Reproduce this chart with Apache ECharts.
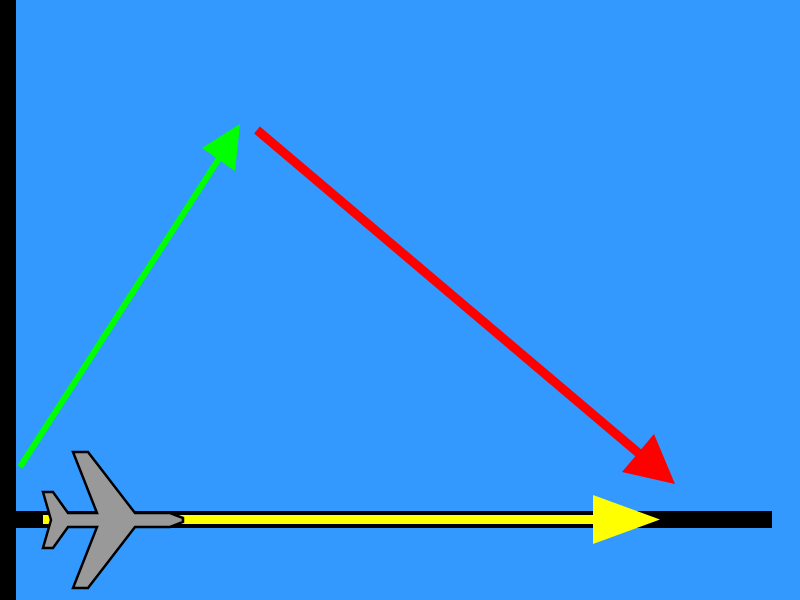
<!DOCTYPE html>
<html>
<head>
<meta charset="utf-8">
<script src="https://cdn.jsdelivr.net/npm/echarts@6/dist/echarts.min.js"></script>
<style>
	html, body {margin:0; padding:0; background:#3399ff;}
	#main {width:800px; height:600px;}
</style>
</head>
<body>
<div id="main"></div>
<script>
	// pixel-space points of the diagram (x right, y down)
	var axisV = [[8, 0], [8, 600]];
	var axisH = [[16, 519.5], [772, 519.5]];
	var yellowShaft = [[43, 519.5], [600, 519.5]];
	var yellowHead = [[593, 495], [660, 519.5], [593, 544]];
	var greenShaft = [[20, 467], [220, 157]];
	var greenHead = [[240, 124], [235, 171], [202, 148]];
	var redShaft = [[257, 130], [642, 456]];
	var redHead = [[675, 484], [622, 472], [654, 434]];
	var plane = [[183, 518], [170, 513], [135, 513], [88, 452], [73, 452], [97, 513], [68, 513], [53, 492], [43, 492],
		[51, 520], [43, 548], [53, 548], [68, 527], [97, 527], [73, 588], [88, 588], [135, 527], [170, 527], [183, 522]];

	var shapes = [
		{pts: axisV, type: 'line', color: '#000', width: 16},
		{pts: axisH, type: 'line', color: '#000', width: 17},
		{pts: yellowShaft, type: 'line', color: '#ffff00', width: 9},
		{pts: yellowHead, type: 'poly', color: '#ffff00'},
		{pts: greenShaft, type: 'line', color: '#00ff00', width: 6},
		{pts: greenHead, type: 'poly', color: '#00ff00'},
		{pts: redShaft, type: 'line', color: '#ff0000', width: 9},
		{pts: redHead, type: 'poly', color: '#ff0000'},
		{pts: plane, type: 'poly', color: '#999999', stroke: '#000', width: 2.5}
	];

	var myChart = echarts.init(document.getElementById('main'));
	var option = {
		backgroundColor: '#3399ff',
		animation: false,
		grid: {left: 0, right: 0, top: 0, bottom: 0},
		xAxis: {type: 'value', min: 0, max: 800, show: false},
		yAxis: {type: 'value', min: 0, max: 600, inverse: true, show: false},
		series: [{
			type: 'custom',
			coordinateSystem: 'cartesian2d',
			data: shapes.map(function (s, i) { return [i]; }),
			renderItem: function (params, api) {
				var s = shapes[params.dataIndex];
				var pts = s.pts.map(function (p) { return api.coord(p); });
				if (s.type === 'line') {
					return {type: 'polyline', shape: {points: pts},
						style: {stroke: s.color, lineWidth: s.width, fill: null}};
				}
				return {type: 'polygon', shape: {points: pts},
					style: {fill: s.color, stroke: s.stroke || null, lineWidth: s.width || 0}};
			}
		}]
	};
	myChart.setOption(option);
</script>
</body>
</html>
